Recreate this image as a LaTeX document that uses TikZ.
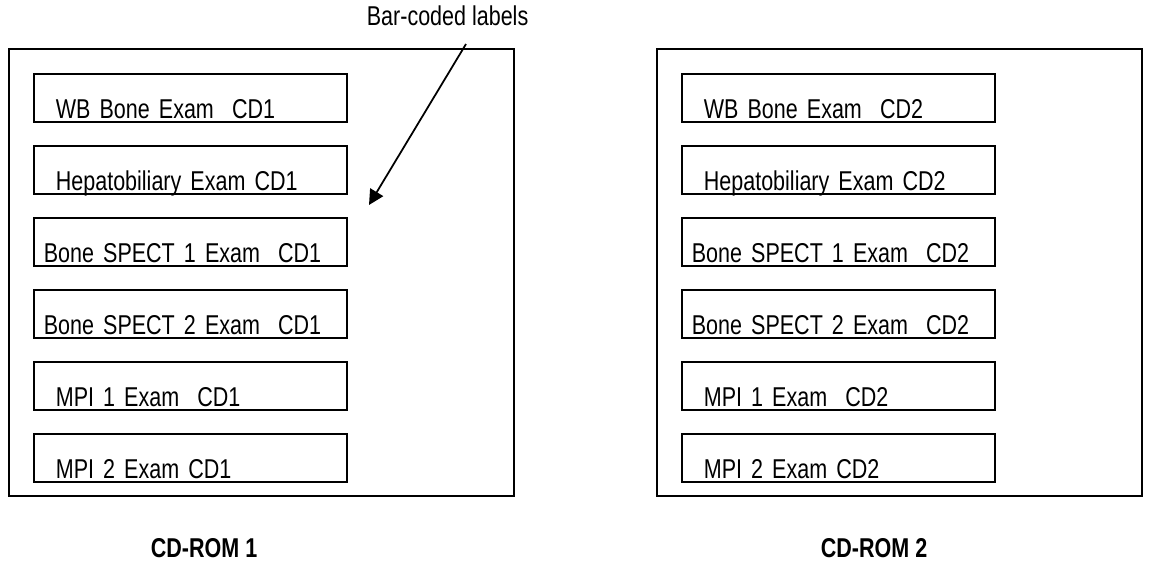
\documentclass[tikz,border=0pt]{standalone}
\usepackage{fontspec}
\setmainfont{Liberation Sans}[FakeStretch=0.79]
\usetikzlibrary{arrows.meta}

\begin{document}
\begin{tikzpicture}[x=0.02cm, y=-0.02cm, every path/.style={line width=1pt},
  every node/.style={font=\fontsize{15.5}{18}\selectfont, inner sep=0pt},
  labelbox/.style={draw, anchor=north west, inner xsep=0.44cm, text width=5.38cm, text height=0.9cm, text depth=0.06cm, align=left},
  widebox/.style={labelbox, inner xsep=0.2cm, text width=5.86cm},
  cdname/.style={anchor=base west, font=\fontsize{15.5}{18}\selectfont\bfseries}]
\useasboundingbox (0,0) rectangle (1154,565);

% the two discs
\draw (9,49) rectangle (514,496);
\draw (657,49) rectangle (1142,496);

\node[labelbox] (w1) at (33,73) {WB Bone Exam\ \ CD1};
\node[labelbox] (h1) at (33,145) {Hepatobiliary Exam CD1};
\node[widebox]  (b11) at (33,217) {Bone SPECT 1 Exam\ \ CD1};
\node[widebox]  (b21) at (33,289) {Bone SPECT 2 Exam\ \ CD1};
\node[labelbox] (m11) at (33,361) {MPI 1 Exam\ \ CD1};
\node[labelbox] (m21) at (33,433) {MPI 2 Exam CD1};

\node[labelbox] (w2) at (681,73) {WB Bone Exam\ \ CD2};
\node[labelbox] (h2) at (681,145) {Hepatobiliary Exam CD2};
\node[widebox]  (b12) at (681,217) {Bone SPECT 1 Exam\ \ CD2};
\node[widebox]  (b22) at (681,289) {Bone SPECT 2 Exam\ \ CD2};
\node[labelbox] (m12) at (681,361) {MPI 1 Exam\ \ CD2};
\node[labelbox] (m22) at (681,433) {MPI 2 Exam CD2};

\node[cdname] (cd1) at (150,557) {CD-ROM 1};
\node[cdname] (cd2) at (820,557) {CD-ROM 2};

\node[anchor=base west] (bar) at (366,25) {Bar-coded labels};
\coordinate (tail) at (466,44);
\coordinate (tip) at (369,205);
\draw[-{Triangle[length=0.3cm, width=0.3cm]}] (tail) -- (tip);
\end{tikzpicture}
\end{document}
